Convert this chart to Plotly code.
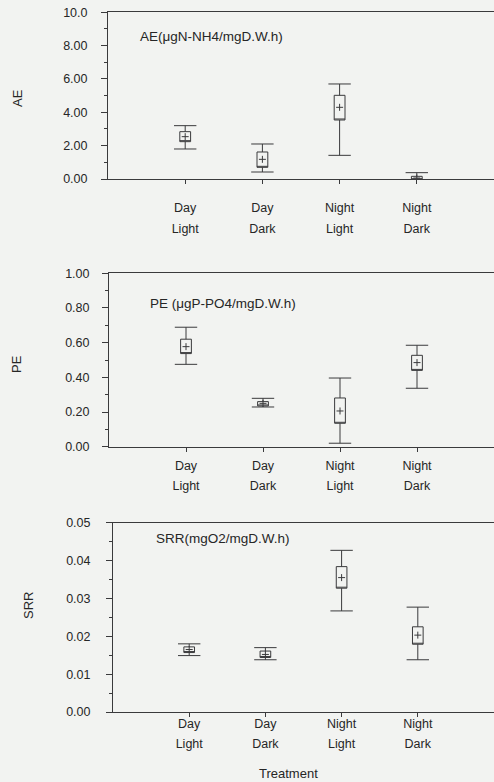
import plotly.graph_objects as go

# ---------------- data ----------------
cat_line1 = ["Day", "Day", "Night", "Night"]
cat_line2 = ["Light", "Dark", "Light", "Dark"]
cat_pos = [0, 1, 2, 3]

# AE (µgN-NH4/mgD.W.h)
ae_mean = [2.54, 1.18, 4.30, 0.06]
ae_box_lo = [2.24, 0.70, 3.54, -0.04]
ae_box_hi = [2.84, 1.62, 5.02, 0.16]
ae_wh_lo = [1.80, 0.42, 1.42, -0.10]
ae_wh_hi = [3.20, 2.10, 5.70, 0.38]
ae_tickvals = [0, 2, 4, 6, 8, 10]
ae_ticktext = ["0.00", "2.00", "4.00", "6.00", "8.00", "10.0"]

# PE (µgP-PO4/mgD.W.h)
pe_mean = [0.577, 0.250, 0.206, 0.485]
pe_box_lo = [0.537, 0.235, 0.135, 0.440]
pe_box_hi = [0.620, 0.260, 0.281, 0.527]
pe_wh_lo = [0.475, 0.229, 0.020, 0.337]
pe_wh_hi = [0.689, 0.279, 0.396, 0.585]
pe_tickvals = [0, 0.2, 0.4, 0.6, 0.8, 1.0]
pe_ticktext = ["0.00", "0.20", "0.40", "0.60", "0.80", "1.00"]

# SRR (mgO2/mgD.W.h)
srr_mean = [0.0165, 0.0152, 0.0355, 0.0203]
srr_box_lo = [0.0157, 0.0144, 0.0327, 0.0179]
srr_box_hi = [0.0172, 0.0161, 0.0384, 0.0225]
srr_wh_lo = [0.0149, 0.0138, 0.0267, 0.0138]
srr_wh_hi = [0.0180, 0.0170, 0.0427, 0.0277]
srr_tickvals = [0, 0.01, 0.02, 0.03, 0.04, 0.05]
srr_ticktext = ["0.00", "0.01", "0.02", "0.03", "0.04", "0.05"]

# ---------------- style ----------------
LINE = "#3a3a3c"
TEXT = "#262626"
BG = "#f2f3f1"
FONT = "Liberation Sans, Arial, sans-serif"
W, H = 494, 782

fig = go.Figure()

panels = [
    (ae_mean, ae_box_lo, ae_box_hi, ae_wh_lo, ae_wh_hi, "x", "y"),
    (pe_mean, pe_box_lo, pe_box_hi, pe_wh_lo, pe_wh_hi, "x2", "y2"),
    (srr_mean, srr_box_lo, srr_box_hi, srr_wh_lo, srr_wh_hi, "x3", "y3"),
]

for mean, blo, bhi, wlo, whi, xa, ya in panels:
    fig.add_trace(go.Box(
        x=cat_pos, q1=blo, median=blo, q3=bhi,
        lowerfence=wlo, upperfence=whi,
        width=0.14, whiskerwidth=0,
        line=dict(color=LINE, width=1),
        fillcolor="rgba(0,0,0,0)", boxpoints=False,
        xaxis=xa, yaxis=ya, showlegend=False, hoverinfo="skip",
    ))
    fig.add_trace(go.Scatter(
        x=cat_pos + cat_pos, y=wlo + whi, mode="markers",
        marker=dict(symbol="line-ew", size=16, line=dict(color=LINE, width=1)),
        xaxis=xa, yaxis=ya, showlegend=False, cliponaxis=False, hoverinfo="skip",
    ))
    fig.add_trace(go.Scatter(
        x=cat_pos, y=mean, mode="markers",
        marker=dict(symbol="cross-thin", size=5, line=dict(color=LINE, width=1)),
        xaxis=xa, yaxis=ya, showlegend=False, hoverinfo="skip",
    ))


def xax(left_px, anchor, standoff):
    return dict(
        domain=[left_px / W, 1], range=[-1, 4], anchor=anchor, automargin=False,
        tickmode="array", tickvals=cat_pos, ticktext=cat_line1,
        showline=True, linecolor=LINE, linewidth=1, mirror=True,
        ticks="outside", ticklen=4, tickcolor=LINE, tickwidth=1,
        ticklabelstandoff=standoff,
        showgrid=False, zeroline=False,
        tickfont=dict(family=FONT, size=12.5, color=TEXT),
    )


def xax_line2(left_px, anchor, over, standoff):
    return dict(
        domain=[left_px / W, 1], range=[-1, 4], anchor=anchor, overlaying=over,
        automargin=False, side="bottom",
        tickmode="array", tickvals=cat_pos, ticktext=cat_line2,
        showline=False, ticks="", ticklabelstandoff=standoff,
        showgrid=False, zeroline=False,
        tickfont=dict(family=FONT, size=12.5, color=TEXT),
    )


def yax(bottom_px, top_px, rng, tv, tt, minor_dtick, anchor, standoff):
    return dict(
        domain=[1 - bottom_px / H, 1 - top_px / H], range=rng, anchor=anchor,
        automargin=False,
        tickmode="array", tickvals=tv, ticktext=tt,
        showline=True, linecolor=LINE, linewidth=1, mirror=False,
        ticks="outside", ticklen=6, tickcolor=LINE, tickwidth=1,
        minor=dict(dtick=minor_dtick, tick0=0, ticks="outside", ticklen=3,
                   tickcolor=LINE, tickwidth=1, showgrid=False),
        ticklabelstandoff=standoff,
        showgrid=False, zeroline=False,
        tickfont=dict(family=FONT, size=12.5, color=TEXT),
    )


fig.update_layout(
    width=W, height=H,
    margin=dict(l=0, r=0, t=0, b=0, autoexpand=False),
    paper_bgcolor=BG, plot_bgcolor=BG,
    font=dict(family=FONT, color=TEXT),
    xaxis=xax(108, "y", 13),
    xaxis2=xax(109, "y2", 3),
    xaxis3=xax(113, "y3", -4),
    xaxis4=xax_line2(108, "y", "x", 40),
    xaxis5=xax_line2(109, "y2", "x2", 30),
    xaxis6=xax_line2(113, "y3", "x3", 22),
    yaxis=yax(179, 12.3, [0, 10], ae_tickvals, ae_ticktext, 1, "x", 11),
    yaxis2=yax(446.7, 273.3, [0, 1], pe_tickvals, pe_ticktext, 0.1, "x2", 10),
    yaxis3=yax(712, 522.7, [0, 0.05], srr_tickvals, srr_ticktext, 0.005, "x3", 13),
)

# invisible helper traces so the second-line axes are rendered
for xa, ya in [("x4", "y"), ("x5", "y2"), ("x6", "y3")]:
    fig.add_trace(go.Scatter(x=[None], y=[None], xaxis=xa, yaxis=ya,
                             showlegend=False, hoverinfo="skip"))


def ann(text, xpx, ypx, size=13.5, angle=0, xanchor="left"):
    fig.add_annotation(
        text=text, x=xpx / W, y=1 - ypx / H, xref="paper", yref="paper",
        xanchor=xanchor, yanchor="middle", showarrow=False, textangle=angle,
        font=dict(family=FONT, size=size, color=TEXT),
    )


ann("AE(μgN-NH4/mgD.W.h)", 138, 37)
ann("PE (μgP-PO4/mgD.W.h)", 148, 303)
ann("SRR(mgO2/mgD.W.h)", 154, 538)
ann("AE", 17, 98, size=13, angle=-90, xanchor="center")
ann("PE", 16, 364, size=13, angle=-90, xanchor="center")
ann("SRR", 28, 606, size=13, angle=-90, xanchor="center")
ann("Treatment", 288, 773, size=13, xanchor="center")

fig.write_html("out.html")
